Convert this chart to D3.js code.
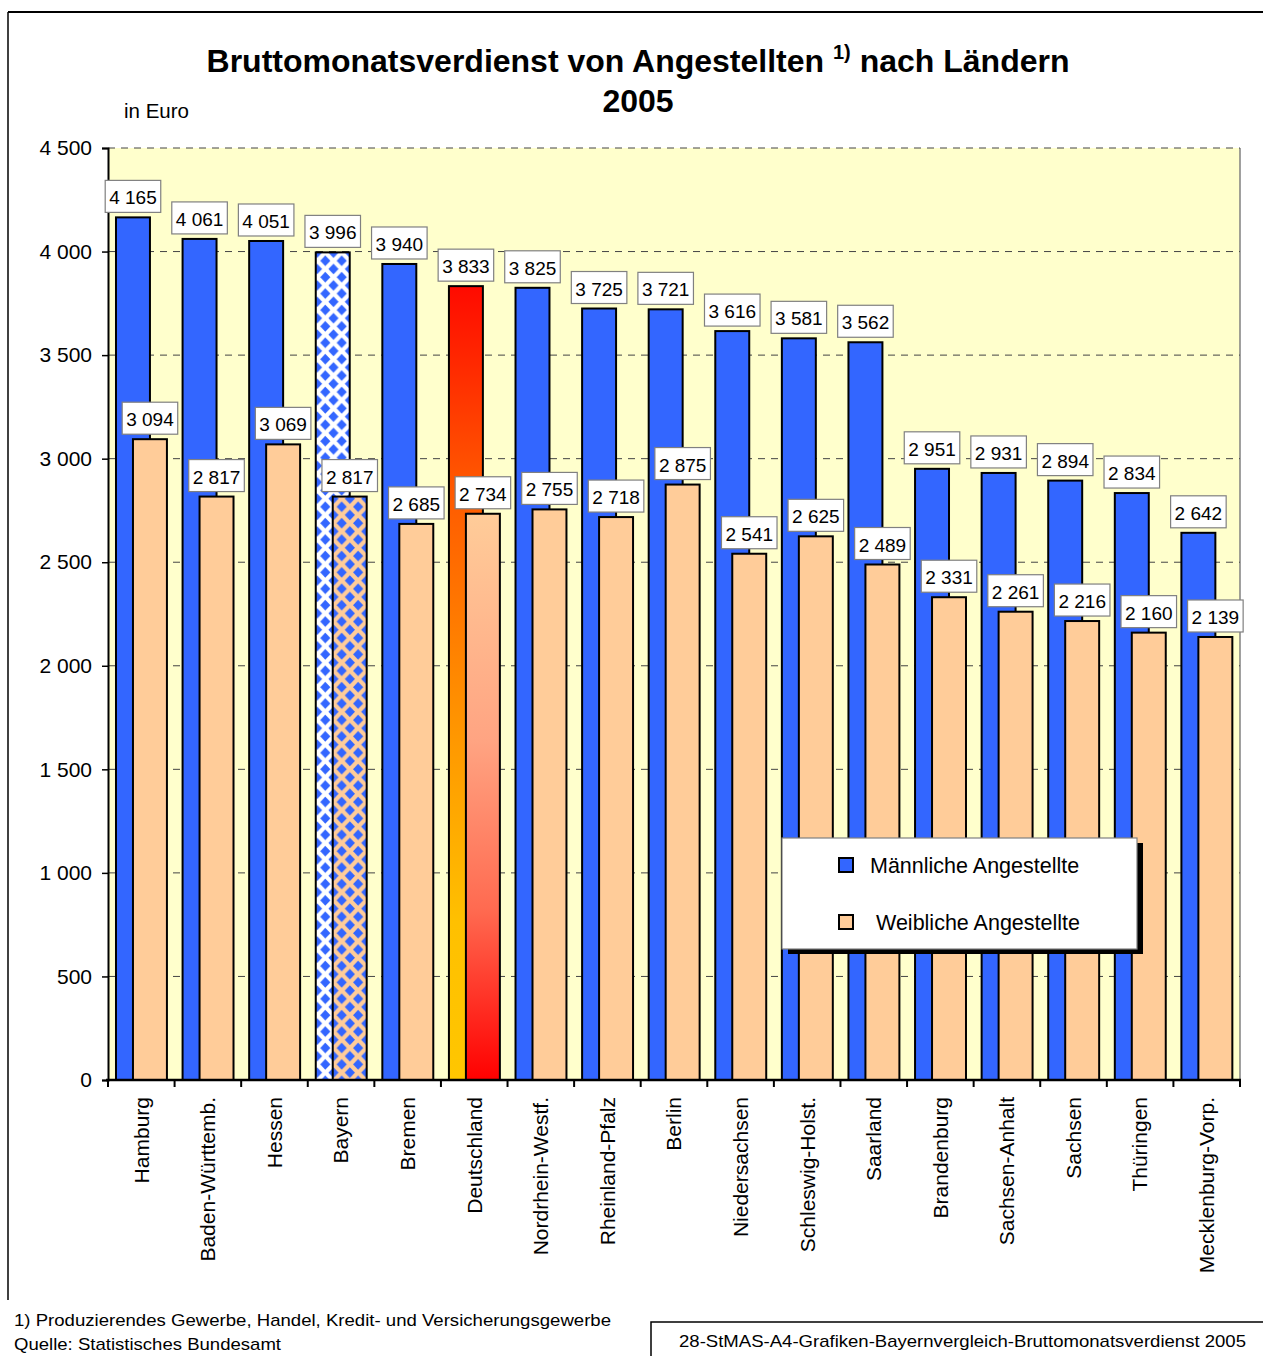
<!DOCTYPE html>
<html><head><meta charset="utf-8">
<script src="https://cdn.jsdelivr.net/npm/d3@7"></script>
<style>
body{margin:0;background:#fff;}
svg{display:block;font-family:"Liberation Sans",Arial,sans-serif;}
</style></head>
<body>
<svg id="chart" width="1263" height="1356"></svg>
<script>
const categories = ["Hamburg","Baden-Württemb.","Hessen","Bayern","Bremen","Deutschland","Nordrhein-Westf.","Rheinland-Pfalz","Berlin","Niedersachsen","Schleswig-Holst.","Saarland","Brandenburg","Sachsen-Anhalt","Sachsen","Thüringen","Mecklenburg-Vorp."];
const maleValues = [4165,4061,4051,3996,3940,3833,3825,3725,3721,3616,3581,3562,2951,2931,2894,2834,2642];
const femaleValues = [3094,2817,3069,2817,2685,2734,2755,2718,2875,2541,2625,2489,2331,2261,2216,2160,2139];
const yTicks = [0,500,1000,1500,2000,2500,3000,3500,4000,4500];
const seriesNames = ["Männliche Angestellte","Weibliche Angestellte"];

const svg = d3.select("#chart");
const fmt = v => d3.format(",")(v).replace(/,/g," ");
const FONT = "Liberation Sans, Arial, sans-serif";

const x = d3.scaleBand().domain(categories).range([108,1240]).paddingInner(0).paddingOuter(0);
const y = d3.scaleLinear().domain([0,4500]).range([1080,148]);
const bw = x.bandwidth();

// defs
const defs = svg.append("defs");
function diamondPattern(id, bg){
  const p = defs.append("pattern").attr("id",id).attr("patternUnits","userSpaceOnUse")
    .attr("width",16.4).attr("height",16.4).attr("x",321.2).attr("y",10.7);
  p.append("rect").attr("width",16.4).attr("height",16.4).attr("fill",bg);
  const a = 5.1;
  const d = (cx,cy)=>`M${cx-a},${cy} L${cx},${cy-a*1.05} L${cx+a},${cy} L${cx},${cy+a*1.05} Z`;
  const h = 4.1, H = 12.3;
  p.append("path").attr("d", d(h,h)+d(H,H)+d(H,-h)+d(-h,H)+d(20.5,h)+d(h,20.5)).attr("fill","#3366FF");
}
diamondPattern("bavM","#FFFFFF");
diamondPattern("bavF","#FFCC99");
const gM = defs.append("linearGradient").attr("id","deM").attr("x1",0).attr("y1",0).attr("x2",0).attr("y2",1);
[["0%","#FF0A00"],["25%","#FF5800"],["55%","#FF9400"],["80%","#FFC000"],["100%","#FFC600"]]
  .forEach(s=>gM.append("stop").attr("offset",s[0]).attr("stop-color",s[1]));
const gF = defs.append("linearGradient").attr("id","deF").attr("x1",0).attr("y1",0).attr("x2",0).attr("y2",1);
[["0%","#FFCC99"],["40%","#FFA482"],["70%","#FF6A50"],["100%","#FF0000"]]
  .forEach(s=>gF.append("stop").attr("offset",s[0]).attr("stop-color",s[1]));

// outer frame
svg.append("line").attr("x1",8).attr("x2",1263).attr("y1",12).attr("y2",12).attr("stroke","#000").attr("stroke-width",2);
svg.append("line").attr("x1",8).attr("x2",8).attr("y1",12).attr("y2",1300).attr("stroke","#000").attr("stroke-width",1.5);

// title
const title = svg.append("text").attr("x",638).attr("y",72).attr("text-anchor","middle")
  .attr("font-weight","bold").attr("font-size",32).attr("fill","#000");
title.append("tspan").text("Bruttomonatsverdienst von Angestellten ");
title.append("tspan").attr("font-size",20).attr("dy",-13).text("1)");
title.append("tspan").attr("dy",13).text(" nach Ländern");
svg.append("text").attr("x",638).attr("y",112).attr("text-anchor","middle")
  .attr("font-weight","bold").attr("font-size",32).text("2005");
svg.append("text").attr("x",124).attr("y",118).attr("font-size",20.5).text("in Euro");

// plot background
svg.append("rect").attr("x",108).attr("y",148).attr("width",1132).attr("height",932).attr("fill","#FFFFCC");
svg.append("line").attr("x1",1240).attr("x2",1240).attr("y1",148).attr("y2",1080).attr("stroke","#808080").attr("stroke-width",1.5);

// gridlines
svg.append("g").selectAll("line").data(yTicks.filter(d=>d>0)).join("line")
  .attr("x1",108).attr("x2",1240).attr("y1",d=>y(d)).attr("y2",d=>y(d))
  .attr("stroke","#444").attr("stroke-width",1).attr("stroke-dasharray","7,6");

// y axis
const yAxis = svg.append("g").attr("transform","translate(108,0)")
  .call(d3.axisLeft(y).tickValues(yTicks).tickFormat(fmt).tickSize(6).tickPadding(10));
yAxis.select(".domain").attr("stroke","#000").attr("stroke-width",2);
yAxis.selectAll(".tick line").attr("stroke","#000").attr("stroke-width",1.5);
yAxis.selectAll(".tick text").attr("font-size",21).attr("font-family",FONT).attr("fill","#000");

// bars
const data = categories.map((c,i)=>({c, m:maleValues[i], f:femaleValues[i]}));
const maleFill = d => d.c==="Bayern" ? "url(#bavM)" : d.c==="Deutschland" ? "url(#deM)" : "#3366FF";
const femFill = d => d.c==="Bayern" ? "url(#bavF)" : d.c==="Deutschland" ? "url(#deF)" : "#FFCC99";
svg.append("g").selectAll("rect").data(data).join("rect")
  .attr("x",d=>x(d.c)+bw*0.12).attr("width",bw*0.51)
  .attr("y",d=>y(d.m)).attr("height",d=>y(0)-y(d.m))
  .attr("fill",maleFill).attr("stroke","#000").attr("stroke-width",2);
svg.append("g").selectAll("rect").data(data).join("rect")
  .attr("x",d=>x(d.c)+bw*0.375).attr("width",bw*0.51)
  .attr("y",d=>y(d.f)).attr("height",d=>y(0)-y(d.f))
  .attr("fill",femFill).attr("stroke","#000").attr("stroke-width",2);

// x axis
const xAxis = svg.append("g").attr("transform","translate(0,1080)")
  .call(d3.axisBottom(x).tickSize(0).tickPadding(0));
xAxis.select(".domain").remove();
svg.append("line").attr("x1",106).attr("x2",1241).attr("y1",1080).attr("y2",1080).attr("stroke","#000").attr("stroke-width",2.5);
svg.append("g").selectAll("line").data(d3.range(categories.length+1)).join("line")
  .attr("x1",i=>108+i*bw).attr("x2",i=>108+i*bw).attr("y1",1080).attr("y2",1087)
  .attr("stroke","#000").attr("stroke-width",2);
xAxis.selectAll(".tick text")
  .attr("font-size",21).attr("font-family",FONT).attr("fill","#000")
  .attr("text-anchor","end").attr("dy","0.35em")
  .attr("transform","translate(0,17) rotate(-90)").attr("x",0).attr("y",0);

// labels
function addLabels(key, offset){
  const g = svg.append("g");
  data.forEach(d=>{
    const cx = x(d.c)+bw*offset;
    const top = y(d[key]);
    const lg = g.append("g");
    const r = lg.append("rect").attr("fill","#fff").attr("stroke","#808080").attr("stroke-width",1.2);
    const t = lg.append("text").attr("x",cx).attr("y",top-13).attr("text-anchor","middle")
      .attr("font-size",19).attr("fill","#000").text(fmt(d[key]));
    const w = t.node().getComputedTextLength()+8;
    r.attr("x",cx-w/2).attr("y",top-37).attr("width",w).attr("height",32);
  });
}
addLabels("m",0.375);
addLabels("f",0.63);

// legend
svg.append("rect").attr("x",788).attr("y",843).attr("width",355).attr("height",111).attr("fill","#000");
svg.append("rect").attr("x",782).attr("y",838).attr("width",355).attr("height",111).attr("fill","#fff").attr("stroke","#808080").attr("stroke-width",1.2);
const legItems = [{n:seriesNames[0],c:"#3366FF",y:858,tx:870},{n:seriesNames[1],c:"#FFCC99",y:915,tx:876}];
legItems.forEach(l=>{
  svg.append("rect").attr("x",839).attr("y",l.y).attr("width",14).attr("height",14).attr("fill",l.c).attr("stroke","#000").attr("stroke-width",2);
  svg.append("text").attr("x",l.tx).attr("y",l.y+15).attr("font-size",21.5).text(l.n);
});

// footer
svg.append("text").attr("x",14).attr("y",1326).attr("font-size",17).attr("textLength",597).attr("lengthAdjust","spacingAndGlyphs")
  .text("1) Produzierendes Gewerbe, Handel, Kredit- und Versicherungsgewerbe");
svg.append("text").attr("x",14).attr("y",1350).attr("font-size",17).attr("textLength",267).attr("lengthAdjust","spacingAndGlyphs")
  .text("Quelle: Statistisches Bundesamt");
svg.append("rect").attr("x",651).attr("y",1322).attr("width",620).attr("height",60).attr("fill","none").attr("stroke","#000").attr("stroke-width",1.5);
svg.append("text").attr("x",679).attr("y",1347).attr("font-size",17).attr("textLength",567).attr("lengthAdjust","spacingAndGlyphs")
  .text("28-StMAS-A4-Grafiken-Bayernvergleich-Bruttomonatsverdienst 2005");
</script>
</body></html>
